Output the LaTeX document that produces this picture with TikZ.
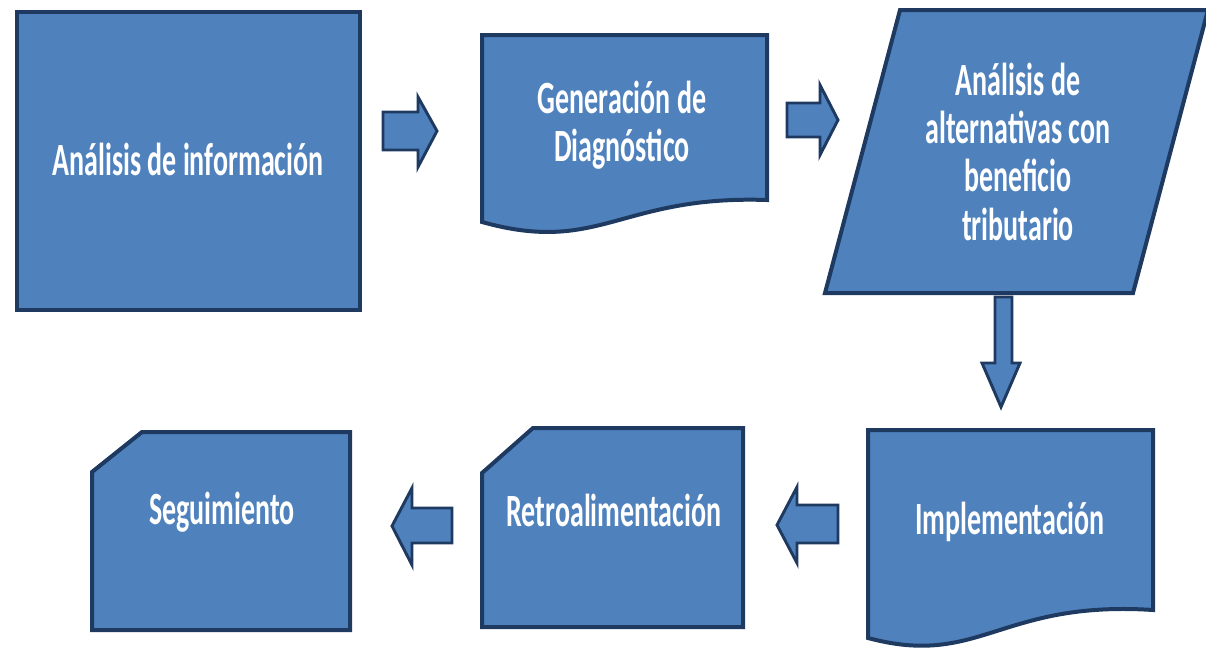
\documentclass[tikz,border=0pt]{standalone}
\usepackage{fontspec}
\setmainfont{Carlito}
\usepackage{graphicx}
\definecolor{fillblue}{HTML}{4F81BD}
\definecolor{edgeblue}{HTML}{1F3A60}
\newcommand{\talltext}[1]{\scalebox{1}[1.65]{\begin{tabular}{@{}c@{}}#1\end{tabular}}}
\begin{document}
\begin{tikzpicture}[x=0.75pt,y=-0.75pt,
  shapebox/.style={fill=fillblue, draw=edgeblue, line width=3pt, line join=miter},
  blockarrow/.style={fill=fillblue, draw=edgeblue, line width=2.2pt, line join=miter},
  lbl/.style={text=white, inner sep=0pt, align=center, font=\bfseries\fontsize{21}{22}\selectfont}]
\useasboundingbox (0,0) rectangle (1206,653);

% shapes
\draw[shapebox] (17,12) rectangle (360,310);
\draw[shapebox] (482,35) -- (767,35) -- (767,200)
  .. controls (620,195) and (600,255) .. (482,222) -- cycle;
\draw[shapebox] (900,10) -- (1208,10) -- (1133,293) -- (825,293) -- cycle;
\draw[shapebox] (868,430) -- (1153,430) -- (1153,610)
  .. controls (1000,600) and (980,668) .. (868,638) -- cycle;
\draw[shapebox] (482,473) -- (533,428) -- (743,428) -- (743,627) -- (482,627) -- cycle;
\draw[shapebox] (92,472) -- (142,432) -- (350,432) -- (350,630) -- (92,630) -- cycle;

% block arrows
\draw[blockarrow] (383,112) -- (418,112) -- (418,97) -- (437,131) -- (418,167) -- (418,150) -- (383,150) -- cycle;
\draw[blockarrow] (787,103) -- (820,103) -- (820,85) -- (838,120) -- (820,155) -- (820,137) -- (787,137) -- cycle;
\draw[blockarrow] (995,297) -- (1012,297) -- (1012,363) -- (1020,363) -- (1001,407) -- (982,363) -- (995,363) -- cycle;
\draw[blockarrow] (838,505) -- (797,505) -- (797,487) -- (777,525) -- (797,563) -- (797,543) -- (838,543) -- cycle;
\draw[blockarrow] (452,508) -- (412,508) -- (412,488) -- (392,526) -- (412,565) -- (412,543) -- (452,543) -- cycle;

% labels
\node[lbl] (t1) at (188,166) {\talltext{Análisis de información}};
\node[lbl] (t2) at (622,128) {\scalebox{1}[1.65]{\begin{tabular}{@{}c@{}}\fontsize{21}{20.5}\selectfont Generación de\\ \fontsize{21}{20.5}\selectfont Diagnóstico\end{tabular}}};
\node[lbl] (t3) at (1018,158) {\talltext{Análisis de\\ alternativas con\\ beneficio\\ tributario}};
\node[lbl] (t4) at (1010,525) {\talltext{Implementación}};
\node[lbl] (t5) at (614,517) {\talltext{Retroalimentación}};
\node[lbl] (t6) at (222,515) {\talltext{Seguimiento}};
\end{tikzpicture}
\end{document}
